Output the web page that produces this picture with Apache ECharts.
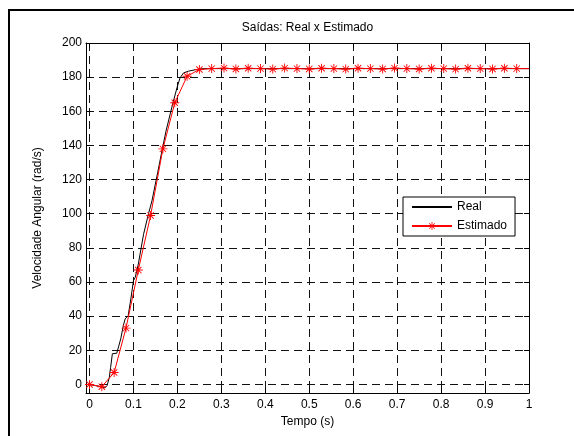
<!DOCTYPE html>
<html><head><meta charset="utf-8">
<script src="https://cdn.jsdelivr.net/npm/echarts@6/dist/echarts.min.js"></script>
<style>html,body{margin:0;padding:0;background:#fff}#c{width:574px;height:436px}</style>
</head><body><div id="c"></div>
<script>
const titleText = 'Saídas: Real x Estimado';
const xName = 'Tempo (s)';
const yName = 'Velocidade Angular (rad/s)';
const seriesNames = ['Real', 'Estimado'];
const xTicks = [0, 0.1, 0.2, 0.3, 0.4, 0.5, 0.6, 0.7, 0.8, 0.9, 1];
const yTicks = [0, 20, 40, 60, 80, 100, 120, 140, 160, 180, 200];

const realTime = [0, 0.02, 0.035, 0.04, 0.045, 0.048, 0.052, 0.062, 0.066, 0.071, 0.077, 0.081, 0.088, 0.094, 0.1, 0.104, 0.111, 0.123, 0.134, 0.142, 0.155, 0.165, 0.174, 0.187, 0.199, 0.206, 0.214, 0.225, 0.244, 0.26, 0.3, 0.4, 0.5, 0.6, 0.7, 0.8, 0.9, 1.0];
const realValues = [0, -1, -2, -0.6, 4, 10, 18, 18.3, 22, 26.7, 34.5, 38.4, 40.3, 50, 60.8, 62.7, 70.5, 88, 99.8, 107.5, 124, 137, 148.4, 162, 173.8, 179.6, 182.5, 183.5, 184.5, 185, 185, 185, 185, 185, 185, 185, 185, 185];

const estTime = [0, 0.028, 0.056, 0.083, 0.111, 0.139, 0.167, 0.194, 0.222, 0.25, 0.278, 0.306, 0.333, 0.361, 0.389, 0.417, 0.444, 0.472, 0.5, 0.528, 0.556, 0.583, 0.611, 0.639, 0.667, 0.694, 0.722, 0.75, 0.778, 0.806, 0.833, 0.861, 0.889, 0.917, 0.944, 0.972, 1.0];
const estValues = [0, -1.3, 7, 33, 67, 99, 138, 165, 180.5, 184.5, 185, 185.3, 184.8, 185.2, 185, 184.7, 185.3, 185, 184.8, 185.2, 185, 184.7, 185.2, 185, 184.8, 185.3, 185, 184.8, 185.2, 185, 184.7, 185.2, 185, 184.8, 185.2, 185, 185];

const FONT = 'Liberation Sans, Arial, sans-serif';
const asterisk = 'path://M9,0L11,0L11,20L9,20ZM0,9L20,9L20,11L0,11ZM2.3,3.7L3.7,2.3L17.7,16.3L16.3,17.7ZM16.3,2.3L17.7,3.7L3.7,17.7L2.3,16.3Z';

const realData = realTime.map((t, i) => [t, realValues[i]]);
const estData = estTime.map((t, i) => (i === estTime.length - 1)
  ? { value: [t, estValues[i]], symbol: 'none' }
  : [t, estValues[i]]);

const X_MIN = -0.008, X_MAX = 1, Y_MIN = -5, Y_MAX = 200;
const gridLine = { show: true, lineStyle: { color: '#111', width: 1, type: [8, 5] } };
const tickStyle = { show: true, inside: true, length: 5, lineStyle: { color: '#000' } };
const axisLine = { show: true, onZero: false, lineStyle: { color: '#000', width: 1 } };

const chart = echarts.init(document.getElementById('c'), null, { renderer: 'canvas' });
chart.setOption({
  animation: false,
  backgroundColor: '#fff',
  textStyle: { fontFamily: FONT },
  graphic: [{ type: 'rect', shape: { x: 9, y: 10, width: 600, height: 500 },
    style: { fill: 'none', stroke: '#000', lineWidth: 2 }, silent: true }],
  grid: { left: 86, top: 43, right: 45, bottom: 43, containLabel: false },
  legend: {
    orient: 'vertical', left: 403, top: 197,
    data: [{ name: seriesNames[0], itemStyle: { opacity: 0 } }, seriesNames[1]],
    backgroundColor: '#fff', borderColor: '#000', borderWidth: 1,
    padding: [4, 8, 4, 8], itemGap: 7, itemWidth: 40, itemHeight: 10,
    textStyle: { fontSize: 12, color: '#000', fontFamily: FONT }
  },
  xAxis: [{
    type: 'value', min: X_MIN, max: X_MAX, position: 'bottom',
    name: xName, nameLocation: 'middle', nameGap: 22,
    nameTextStyle: { fontSize: 12, color: '#000', fontFamily: FONT },
    axisLine: axisLine,
    axisTick: Object.assign({ customValues: xTicks }, tickStyle),
    axisLabel: { customValues: xTicks, margin: 6, fontSize: 12, color: '#000', fontFamily: FONT,
      formatter: v => String(Math.round(v * 10) / 10) },
    splitLine: gridLine
  }, {
    type: 'value', min: X_MIN, max: X_MAX, position: 'top',
    name: titleText, nameLocation: 'middle', nameGap: 9,
    nameTextStyle: { fontSize: 12, color: '#000', fontFamily: FONT },
    axisLine: axisLine,
    axisTick: Object.assign({ customValues: xTicks }, tickStyle),
    axisLabel: { show: false },
    splitLine: { show: false }
  }],
  yAxis: [{
    type: 'value', min: Y_MIN, max: Y_MAX, position: 'left',
    name: yName, nameLocation: 'middle', nameGap: 42, nameRotate: 90,
    nameTextStyle: { fontSize: 12, color: '#000', fontFamily: FONT },
    axisLine: axisLine,
    axisTick: Object.assign({ customValues: yTicks }, tickStyle),
    axisLabel: { customValues: yTicks, margin: 4, fontSize: 12, color: '#000', fontFamily: FONT },
    splitLine: gridLine
  }, {
    type: 'value', min: Y_MIN, max: Y_MAX, position: 'right',
    axisLine: axisLine,
    axisTick: Object.assign({ customValues: yTicks }, tickStyle),
    axisLabel: { show: false },
    splitLine: { show: false }
  }],
  series: [{
    name: seriesNames[0], type: 'line', data: realData,
    xAxisIndex: 0, yAxisIndex: 0,
    symbol: 'none', showSymbol: false,
    lineStyle: { color: '#000', width: 1 }, itemStyle: { color: '#000' }, z: 3
  }, {
    name: seriesNames[1], type: 'line', data: estData,
    xAxisIndex: 0, yAxisIndex: 0,
    symbol: asterisk, symbolSize: 9, showSymbol: true,
    lineStyle: { color: '#ff0000', width: 1 }, itemStyle: { color: '#ff0000' }, z: 4
  }]
});
</script></body></html>
